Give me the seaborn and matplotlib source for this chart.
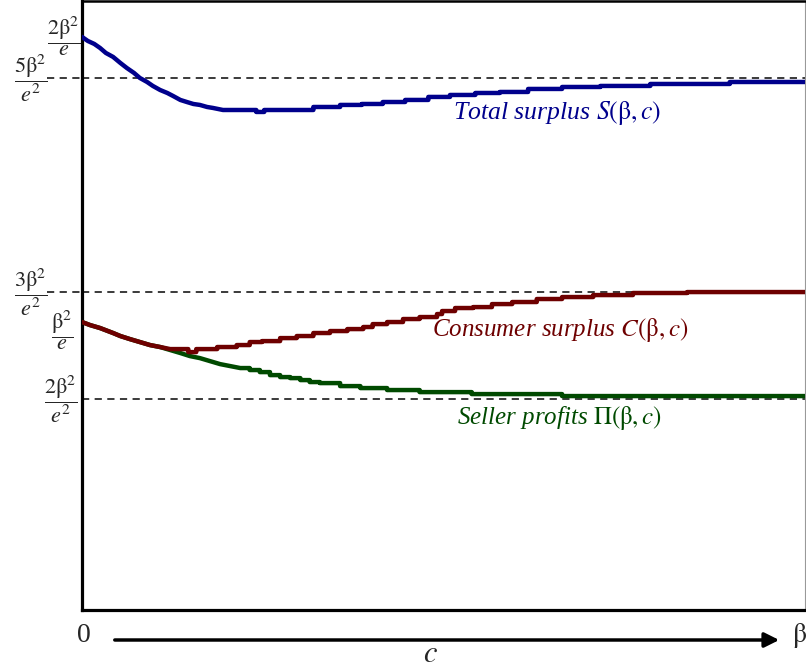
import numpy as np
import pandas as pd
import matplotlib
matplotlib.use('Agg')
import matplotlib.pyplot as plt
import matplotlib.transforms as mtransforms
import seaborn as sns

# valores (x = c/beta, y en unidades de beta^2)
x_total = [0, .008, .017, .025, .033, .043, .053, .062, .072, .080, .090, .098, .108, .118,
           .126, .136, .145, .154, .163, .173, .181, .195, .241, .252, .320, .357, .387,
           .416, .447, .479, .509, .544, .578, .617, .664, .717, .786, .896, 1.0]
y_total = [.7286, .7235, .7197, .7146, .7083, .7033, .6957, .6893, .6830, .6767, .6716, .6666,
           .6615, .6577, .6539, .6489, .6463, .6438, .6426, .6400, .6388, .6362, .6337, .6362,
           .6400, .6426, .6438, .6463, .6489, .6527, .6552, .6577, .6590, .6628, .6653, .6666,
           .6691, .6716, .6716]

x_consumer = [0, .011, .025, .043, .053, .066, .080, .094, .108, .122, .147, .158, .187, .214,
              .232, .249, .274, .297, .320, .343, .367, .389, .402, .422, .444, .467, .491,
              .498, .516, .541, .567, .595, .629, .664, .707, .762, .837, 1.0]
y_consumer = [.3681, .3643, .3605, .3542, .3504, .3466, .3428, .3390, .3365, .3339, .3301, .3339,
              .3365, .3390, .3428, .3440, .3478, .3504, .3542, .3567, .3592, .3618, .3655,
              .3681, .3719, .3744, .3782, .3820, .3858, .3870, .3908, .3934, .3972, .3997,
              .4022, .4048, .4060, .4060]

x_seller = [0, .011, .025, .043, .053, .066, .080, .094, .108, .122, .136, .149, .163, .177,
            .191, .205, .219, .232, .246, .260, .274, .288, .302, .315, .329, .357, .385,
            .422, .467, .539, .664, 1.0]
y_seller = [.3681, .3643, .3605, .3542, .3504, .3466, .3428, .3390, .3365, .3327, .3289, .3251,
            .3225, .3187, .3149, .3124, .3099, .3074, .3048, .3010, .2985, .2972, .2947, .2922,
            .2909, .2871, .2846, .2821, .2795, .2770, .2745, .2745]

# hasta donde la curva es suave (despues va en escalones)
smooth_total = 22
smooth_consumer = 10
smooth_seller = 17

# niveles de referencia y etiquetas del eje y
dashed_levels = [.6767, .406, .2707]
tick_vals = [.729, .6767, .406, .357, .2707]
tick_labels = [r'$\dfrac{2\mathrm{\beta}^2}{e}$', r'$\dfrac{5\mathrm{\beta}^2}{e^2}$',
               r'$\dfrac{3\mathrm{\beta}^2}{e^2}$', r'$\dfrac{\mathrm{\beta}^2}{e}$',
               r'$\dfrac{2\mathrm{\beta}^2}{e^2}$']
tick_xpos = [-0.003, -0.048, -0.048, -0.012, -0.007]

series_names = ['Seller profits', 'Consumer surplus', 'Total surplus']
colores = {'Seller profits': '#004a00', 'Consumer surplus': '#6e0000', 'Total surplus': '#00008c'}


def escalones(xs, ys, n_suave):
    # tramo suave tal cual, luego cada valor se mantiene hasta el siguiente punto
    px, py = list(xs[:n_suave]), list(ys[:n_suave])
    for i in range(n_suave, len(xs)):
        px.append(xs[i])
        py.append(ys[i - 1])
        px.append(xs[i])
        py.append(ys[i])
    return pd.DataFrame({'c': px, 'valor': py})


partes = []
for nombre, xs, ys, n in [('Seller profits', x_seller, y_seller, smooth_seller),
                          ('Consumer surplus', x_consumer, y_consumer, smooth_consumer),
                          ('Total surplus', x_total, y_total, smooth_total)]:
    d = escalones(xs, ys, n)
    d['serie'] = nombre
    partes.append(d)
df = pd.concat(partes, ignore_index=True)

sns.set_style('white')
plt.rcParams['font.family'] = ['Liberation Serif', 'DejaVu Serif']
plt.rcParams['mathtext.fontset'] = 'stix'

fig = plt.figure(figsize=(8.06, 6.70), dpi=100)
ax = fig.add_axes([82 / 806, 1 - 610 / 670, 723 / 806, 609 / 670])

for lvl in dashed_levels:
    ax.axhline(lvl, color='#2b2b2b', linestyle=(0, (4, 3)), linewidth=1.3, zorder=1)

sns.lineplot(data=df, x='c', y='valor', hue='serie', hue_order=series_names, palette=colores,
             units='serie', estimator=None, sort=False, linewidth=3.2, legend=False, ax=ax,
             zorder=3)

ax.set_xlim(0, 1)
ax.set_ylim(0.004, 0.774)
ax.set_xticks([])
ax.set_yticks([])
ax.set_xlabel('')
ax.set_ylabel('')

for side in ['left', 'bottom', 'top']:
    ax.spines[side].set_color('black')
    ax.spines[side].set_linewidth(2.3)
ax.spines['top'].set_linewidth(1.8)
ax.spines['right'].set_color('#999999')
ax.spines['right'].set_linewidth(0.8)

# etiquetas en forma de fraccion
trans = mtransforms.blended_transform_factory(ax.transAxes, ax.transData)
for xp, yv, lab in zip(tick_xpos, tick_vals, tick_labels):
    ax.text(xp, yv, lab, transform=trans, ha='right', va='center', fontsize=16, clip_on=False)
# lineas discontinuas que llegan hasta las fracciones
for lvl in [.6767, .406]:
    ax.plot([-0.048, 0], [lvl, lvl], transform=trans, color='#2b2b2b', linestyle=(0, (4, 3)),
            linewidth=1.3, clip_on=False)

# etiquetas de las curvas
ax.text(0.513, 0.6324, r'Total surplus $S(\mathrm{\beta},c)$', color='#00008c', fontsize=18.5,
        style='italic', va='center')
ax.text(0.484, 0.358, r'Consumer surplus $C(\mathrm{\beta},c)$', color='#6e0000', fontsize=18,
        style='italic', va='center')
ax.text(0.519, 0.2467, r'Seller profits $\Pi(\mathrm{\beta},c)$', color='#004a00', fontsize=18,
        style='italic', va='center')

# eje c con flecha
fig.text(84 / 806, 1 - 635 / 670, '0', fontsize=20, ha='center', va='center')
fig.text(792 / 806, 1 - 635 / 670, r'$\mathrm{\beta}$', fontsize=20, ha='left', va='center')
fig.text(430 / 806, 1 - 655 / 670, r'$c$', fontsize=22, ha='center', va='center')
ax.annotate('', xy=(782 / 806, 1 - 640 / 670), xytext=(112 / 806, 1 - 640 / 670),
            xycoords='figure fraction', textcoords='figure fraction',
            arrowprops=dict(arrowstyle='-|>', color='black', lw=2.5, mutation_scale=22))

fig.savefig('out.png', dpi=100)
